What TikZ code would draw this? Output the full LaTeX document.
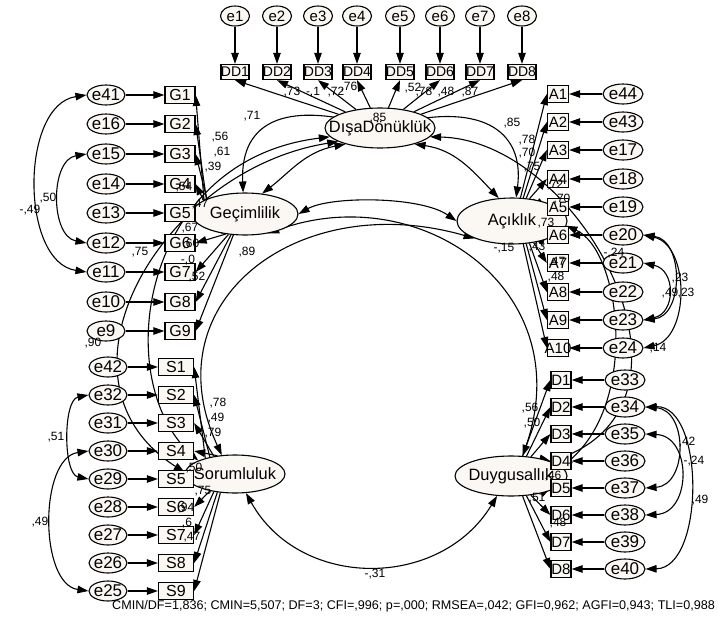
\documentclass[tikz,border=0pt]{standalone}
\usepackage{fontspec}
\setmainfont{Liberation Sans}
\usetikzlibrary{arrows.meta,shapes.geometric,backgrounds}
\definecolor{cream}{HTML}{FBF8F3}
\begin{document}
\begin{tikzpicture}[x=1pt,y=-1pt,
  txt/.style={inner sep=0pt, font=\fontsize{#1}{#1}\selectfont},
  box/.style={draw, line width=1.3pt, fill=cream, minimum height=17pt, inner sep=0pt},
  lat/.style={draw, ellipse, line width=1.1pt, fill=cream, inner sep=0pt},
  err/.style={draw, ellipse, line width=1.1pt, fill=cream, minimum height=20pt, inner sep=0pt},
  arr/.style={line width=1.1pt, -{Triangle[length=11pt,width=7.5pt]}},
  arr2/.style={line width=1.1pt, {Triangle[length=11pt,width=7.5pt]}-{Triangle[length=11pt,width=7.5pt]}},
  lab/.style={font=\fontsize{12}{12}\selectfont, inner sep=0pt}]
\useasboundingbox (0,0) rectangle (718,621);
% latent variables
\node[lat, minimum width=110pt, minimum height=40pt, label={[txt=16.4]center:DışaDönüklük}] (LDD) at (380,128) {};
\node[lat, minimum width=106pt, minimum height=42pt, label={[txt=16.4]center:Geçimlilik}] (LG) at (245,214) {};
\node[lat, minimum width=110pt, minimum height=46pt, label={[txt=16.4]center:Açıklık}] (LA) at (512,221) {};
\node[lat, minimum width=100pt, minimum height=38pt, label={[txt=16.4]center:Sorumluluk}] (LS) at (235,474) {};
\node[lat, minimum width=112pt, minimum height=40pt, label={[txt=16.4]center:Duygusallık}] (LD) at (511,476) {};
% top
\foreach \x [count=\i] in {235,277,318,357,400,440,480,522} {
  \node[err, minimum width=29pt, label={[txt=15]center:e\i}] (e\i) at (\x,16) {};
  \node[box, minimum width=28pt, minimum height=15pt, label={[txt=14]center:DD\i}] (DD\i) at (\x,72) {};
}
% G column
\foreach \n/\y [count=\i] in {41/95,16/124,15/154,14/184,13/213,12/243,11/272,10/302,9/331} {
  \node[box, minimum width=30pt, label={[txt=16]center:G\i}] (G\i) at (180,\y) {};
  \node[err, minimum width=38pt, label={[txt=17]center:e\n}] (e\n) at (106,\y) {};
}
% S column
\foreach \n/\y [count=\i] in {42/367,32/395,31/423,30/451,29/479,28/507,27/535,26/563,25/591} {
  \node[box, minimum width=35pt, label={[txt=16]center:S\i}] (S\i) at (176,\y) {};
  \node[err, minimum width=38pt, label={[txt=17]center:e\n}] (e\n) at (108,\y) {};
}
% A column
\foreach \n/\y [count=\i] in {44/94,43/122,17/150,18/179,19/207,20/235,21/263,22/292,23/320,24/348} {
  \node[box, minimum width=21pt, label={[txt=15]center:A\i}] (A\i) at (558,\y) {};
  \node[err, minimum width=40pt, label={[txt=17]center:e\n}] (e\n) at (623,\y) {};
}
% D column
\foreach \n/\y [count=\i] in {33/380,34/407,35/434,36/461,37/488,38/515,39/542,40/569} {
  \node[box, minimum width=20pt, label={[txt=15]center:D\i}] (D\i) at (561,\y) {};
  \node[err, minimum width=40pt, label={[txt=17]center:e\n}] (e\n) at (625,\y) {};
}
\node[anchor=west, inner sep=0pt, font=\fontsize{12.6}{12.6}\selectfont] (fit) at (112,606) {CMIN/DF=1,836; CMIN=5,507; DF=3; CFI=,996; p=,000; RMSEA=,042; GFI=0,962; AGFI=0,943; TLI=0,988};

\begin{pgfonlayer}{background}
\fill[white] (0,0) rectangle (718,621);
\foreach \i in {1,...,8} { \draw[arr] (e\i) -- (DD\i); \draw[arr] (LDD) -- (DD\i.south); }
\foreach \n/\a [count=\i] in {41/201,16/206,15/211,14/216,13/221,12/226,11/231,10/236,9/241} {
  \draw[arr] (e\n) -- (G\i); \draw[arr] (LG.\a) -- (G\i.east); }
\foreach \n/\a [count=\i] in {42/152,32/146,31/140,30/134,29/170,28/214,27/220,26/226,25/232} {
  \draw[arr] (e\n) -- (S\i); \draw[arr] (LS.\a) -- (S\i.east); }
\foreach \n/\a [count=\i] in {44/70,43/64,17/58,18/52,19/46,20/325,21/315,22/308,23/302,24/296} {
  \draw[arr] (e\n) -- (A\i); \draw[arr] (LA.\a) -- (A\i.west); }
\foreach \n/\a [count=\i] in {33/60,34/52,35/44,36/30,37/330,38/316,39/308,40/300} {
  \draw[arr] (e\n) -- (D\i); \draw[arr] (LD.\a) -- (D\i.west); }
% error covariances
\draw[arr2] (e41.west) .. controls (20,105) and (20,262) .. (e11.west);
\draw[arr2] (e15.west) .. controls (50,160) and (50,236) .. (e12.west);
\draw[arr2] (e32.west) .. controls (63,400) and (63,474) .. (e29.west);
\draw[arr2] (e30.west) .. controls (39,458) and (39,584) .. (e25.west);
\draw[arr2] (e20.east) .. controls (690,245) and (690,338) .. (e24.east);
\draw[arr2] (e21.east) .. controls (676,270) and (676,313) .. (e23.east);
\draw[arr2] (e20.east) .. controls (684,240) and (684,316) .. (e23.east);
\draw[arr2] (e34.east) .. controls (688,410) and (688,485) .. (e37.east);
\draw[arr2] (e35.east) .. controls (692,436) and (692,513) .. (e38.east);
\draw[arr2] (e34.east) .. controls (705,405) and (705,568) .. (e40.east);
% latent covariances
\draw[arr] (LDD.center) .. controls (290,100) and (240,118) .. (LG.95);
\draw[arr] (LDD.center) .. controls (480,98) and (525,130) .. (LA.80);
\draw[arr2] (LDD.205) .. controls (305,152) and (290,172) .. (LG.50);
\draw[arr2] (LDD.335) .. controls (455,150) and (472,170) .. (LA.120);
\draw[arr2] (LG.east) .. controls (330,196) and (420,196) .. (LA.west);
\draw[arr2] (LG.320) .. controls (420,178) and (580,290) .. (LD.60);
\draw[arr2] (LS.125) .. controls (150,300) and (300,188) .. (LA.205);
\draw[arr2] (LS.300) .. controls (300,590) and (440,590) .. (LD.235);
\draw[arr2] (LDD.190) .. controls (140,160) and (110,380) .. (LS.160);
\draw[arr2] (LDD.198) .. controls (160,170) and (40,380) .. (LS.178);
\draw[arr2] (LDD.350) .. controls (580,140) and (720,400) .. (LD.20);
\draw[arr2] (LA.355) .. controls (620,250) and (640,400) .. (LD.10);
\end{pgfonlayer}
% coefficient labels
\foreach \t/\x/\y [count=\i] in {{,73}/292/92, {-,1}/313/92, {,72}/336/92, {,76}/349/87, {,52}/413/88, {,78}/424/92, {,48}/446/92, {,87}/470/92, {,85}/378/118, {,71}/252/116, {,85}/512/123,
 {,56}/220/137, {,61}/222/152, {,39}/213/167, {,54}/184/187, {,47}/200/204, {,67}/190/228, {,60}/191/244, {-,0}/188/260, {,52}/197/277, {,75}/140/252, {,89}/247/252, {,90}/93/343, {-,49}/30/210, {,50}/48/198,
 {,78}/218/403, {,49}/216/418, {,79}/213/433, {,50}/194/468, {,75}/203/491, {,94}/186/508, {,6}/187/523, {,47}/192/537, {,51}/56/437, {,49}/40/522,
 {,78}/527/140, {,70}/527/153, {,75}/532/167, {,72}/555/185, {,70}/562/199, {,73}/546/223, {-,15}/504/248, {,43}/537/247, {-,24}/614/253, {,47}/557/262, {,48}/556/277, {,23}/680/278, {,49}/670/293, {,23}/686/293, {,14}/658/348,
 {,56}/530/408, {,50}/532/423, {,46}/553/476, {,51}/537/498, {,48}/558/523, {,42}/687/442, {-,24}/694/461, {,49}/700/500, {-,31}/375/574}
  { \node[lab] (lab\i) at (\x,\y) {\t}; }
\end{tikzpicture}
\end{document}
